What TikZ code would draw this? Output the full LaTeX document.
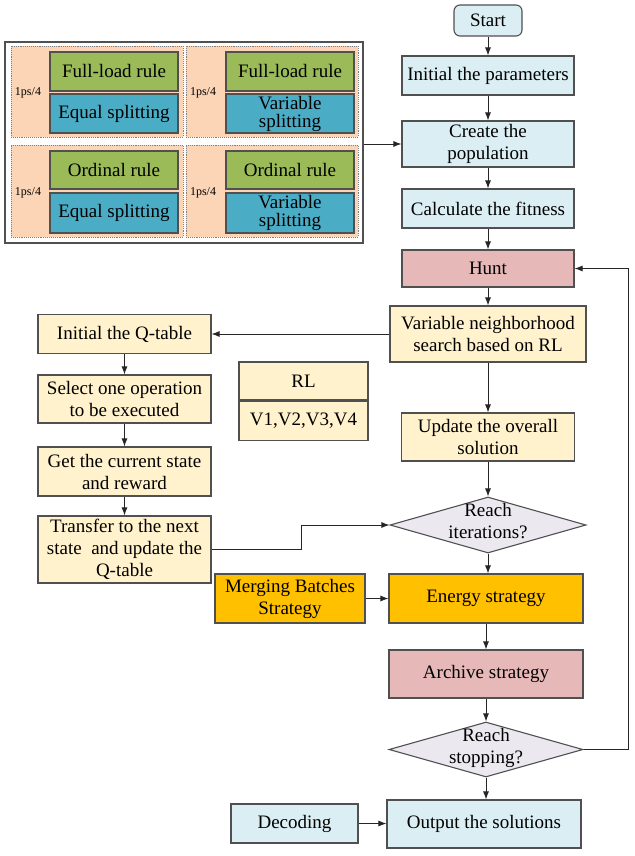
\documentclass[tikz,border=0pt]{standalone}
\usepackage{fontspec}
\setmainfont{Liberation Serif}
\usetikzlibrary{shapes.geometric,arrows.meta}
\definecolor{lblue}{HTML}{DAEEF3}
\definecolor{pinkc}{HTML}{E6B9B8}
\definecolor{lyel}{HTML}{FFF2CC}
\definecolor{orng}{HTML}{FFC000}
\definecolor{lav}{HTML}{EBE8F0}
\definecolor{grn}{HTML}{9BBB59}
\definecolor{blu}{HTML}{4BACC6}
\definecolor{peach}{HTML}{FBD5B5}
\definecolor{edge}{HTML}{505050}
\tikzset{
  box/.style={draw=edge, line width=1.1pt, inner sep=1pt, align=center, font=\fontsize{19}{22}\selectfont},
  bluebox/.style={box, fill=lblue},
  pinkbox/.style={box, fill=pinkc},
  yelbox/.style={box, fill=lyel},
  orbox/.style={box, fill=orng},
  decis/.style={diamond, draw=edge, line width=1.1pt, fill=lav, inner sep=0pt},
  dtext/.style={align=center, font=\fontsize{19}{22}\selectfont},
  panel/.style={draw=gray, densely dotted, line width=0.9pt, fill=peach, inner sep=0pt},
  gbox/.style={box, fill=grn},
  bbox/.style={box, fill=blu},
  conn/.style={draw=black!85, line width=0.9pt, -{Latex[length=8pt,width=6pt]}},
  small/.style={font=\fontsize{12}{14}\selectfont, inner sep=0pt}
}
\begin{document}
\begin{tikzpicture}[x=1pt,y=-1pt]
\useasboundingbox (0,0) rectangle (634,856);
% main column
\node[bluebox, rounded corners=6pt, minimum width=68, minimum height=31] (start) at (488,20.5) {Start};
\node[bluebox, minimum width=172, minimum height=39] (param) at (488,75.5) {Initial the parameters};
\node[bluebox, minimum width=172, minimum height=46] (pop) at (488,144) {Create the\\population};
\node[bluebox, minimum width=172, minimum height=39] (fit) at (488,208.5) {Calculate the fitness};
\node[pinkbox, minimum width=172, minimum height=37] (hunt) at (488,268.5) {Hunt};
\node[yelbox, minimum width=196, minimum height=56] (vns) at (488,334) {Variable neighborhood\\search based on RL};
\node[yelbox, minimum width=173, minimum height=48] (upd) at (488,437) {Update the overall\\solution};
\node[decis, minimum width=196, minimum height=56, label={[dtext, yshift=4pt]center:Reach\\iterations?}] (iter) at (488,525) {};
\node[orbox, minimum width=194, minimum height=49] (energy) at (486,598.5) {Energy strategy};
\node[pinkbox, minimum width=194, minimum height=48] (arch) at (486,674) {Archive strategy};
\node[decis, minimum width=194, minimum height=55, label={[dtext, yshift=2pt]center:Reach\\stopping?}] (stop) at (486,749.5) {};
\node[bluebox, minimum width=194, minimum height=48] (out) at (484,824) {Output the solutions};
% left column
\node[yelbox, minimum width=173, minimum height=39] (qt) at (124.5,334) {Initial the Q-table};
\node[yelbox, minimum width=173, minimum height=48] (sel) at (124.5,399) {Select one operation\\to be executed};
\node[yelbox, minimum width=173, minimum height=49] (gst) at (124.5,471.5) {Get the current state\\and reward};
\node[yelbox, minimum width=173, minimum height=67] (trn) at (124.5,549.5) {Transfer to the next\\state\ \ and update the\\Q-table};
\node[yelbox, minimum width=129, minimum height=38] (rl) at (303.5,381) {RL};
\node[yelbox, minimum width=129, minimum height=39, anchor=north] (rlv) at (rl.south) {V1,V2,V3,V4};
\node[orbox, minimum width=150, minimum height=49] (merge) at (290,598.5) {Merging Batches\\Strategy};
\node[bluebox, minimum width=127, minimum height=39] (dec) at (294.5,823.5) {Decoding};
% configuration panel
\node[draw=edge, line width=1.1pt, fill=white, minimum width=358, minimum height=201, inner sep=0pt] (cfg) at (184,142.5) {};
\node[panel, minimum width=172, minimum height=91] (p1) at (97,91.5) {};
\node[panel, minimum width=172, minimum height=91] (p2) at (272,91.5) {};
\node[panel, minimum width=172, minimum height=92] (p3) at (97,191) {};
\node[panel, minimum width=172, minimum height=92] (p4) at (272,191) {};
\node[gbox, minimum width=128, minimum height=39] (g1) at (114,71.5) {Full-load rule};
\node[bbox, minimum width=128, minimum height=39] (b1) at (114,113.5) {Equal splitting};
\node[gbox, minimum width=128, minimum height=39] (g2) at (290,71.5) {Full-load rule};
\node[bbox, minimum width=128, minimum height=39, font=\fontsize{19}{18}\selectfont, inner sep=0pt] (b2) at (290,113.5) {Variable\\splitting};
\node[gbox, minimum width=128, minimum height=38] (g3) at (114,170) {Ordinal rule};
\node[bbox, minimum width=128, minimum height=40] (b3) at (114,213) {Equal splitting};
\node[gbox, minimum width=128, minimum height=38] (g4) at (290,170) {Ordinal rule};
\node[bbox, minimum width=128, minimum height=40, font=\fontsize{19}{18}\selectfont, inner sep=0pt] (b4) at (290,213) {Variable\\splitting};
\node[small] (l1) at (28,93) {1ps/4};
\node[small] (l2) at (203,93) {1ps/4};
\node[small] (l3) at (28,193) {1ps/4};
\node[small] (l4) at (203,193) {1ps/4};
% connectors
\draw[conn] (start) -- (param);
\draw[conn] (param) -- (pop);
\draw[conn] (pop) -- (fit);
\draw[conn] (fit) -- (hunt);
\draw[conn] (hunt) -- (vns);
\draw[conn] (vns) -- (upd);
\draw[conn] (upd) -- (iter);
\draw[conn] (iter.south) -- (iter.south |- energy.north);
\draw[conn] (energy.south) -- (arch.north);
\draw[conn] (arch) -- (stop);
\draw[conn] (stop.south) -- (stop.south |- out.north);
\draw[conn] (vns.west) -- (qt.east);
\draw[conn] (qt) -- (sel);
\draw[conn] (sel) -- (gst);
\draw[conn] (gst) -- (trn);
\draw[conn] (trn.east) -- (301,549.5) |- (iter.west);
\draw[conn] (merge) -- (energy);
\draw[conn] (dec) -- (out.west |- dec);
\draw[conn] (cfg.east |- pop.west) -- (pop.west);
\draw[conn] (stop.east) -- (628,749.5) |- (hunt.east);
\end{tikzpicture}
\end{document}
